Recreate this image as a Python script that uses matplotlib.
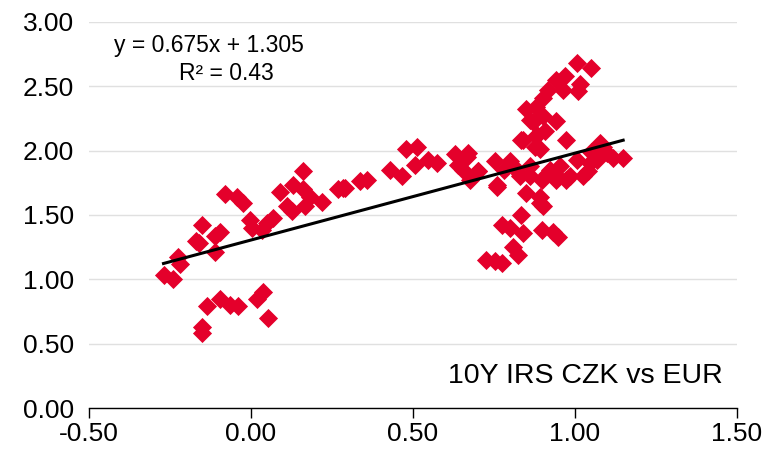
import numpy as np
import matplotlib
matplotlib.use('Agg')
import matplotlib.pyplot as plt

plt.rcParams['font.family'] = ['Liberation Sans', 'DejaVu Sans']

# EUR 10Y IRS (x) vs CZK 10Y IRS (y)
eur = [-0.27, -0.24, -0.225, -0.22, -0.17, -0.152, -0.16, -0.111, -0.096, -0.11,
       -0.08, -0.044, -0.025, -0.003, 0.002, 0.033, 0.048, 0.068, 0.09, 0.11,
       0.126, 0.13, 0.161, 0.161, 0.167, 0.182, 0.218, 0.269, 0.29, 0.336,
       -0.137, -0.096, -0.065, -0.039, 0.018, 0.038, 0.053, -0.152, -0.152,
       0.285, 0.357, 0.429, 0.465, 0.48, 0.511, 0.506, 0.547, 0.573, 0.63,
       0.671, 0.64, 0.655, 0.676, 0.702, 0.753, 0.758, 0.81, 0.84, 0.871, 0.883,
       1.005, 1.051, 0.943, 0.969, 1.015, 1.01, 0.964, 0.918, 0.90, 0.88,
       0.85, 0.861, 0.90, 0.943, 0.907, 0.835, 0.876, 0.974, 0.892, 1.077,
       1.051, 1.149, 1.118, 1.098, 0.70, 0.80, 0.83, 0.861, 0.85, 0.892,
       0.913, 0.954, 0.985, 1.025, 1.005, 0.943, 0.974,
       0.758, 0.892, 0.90, 0.835, 0.774, 0.80, 0.84, 0.897, 0.933, 0.949,
       0.81, 0.825, 0.727, 0.753, 0.774,
       0.666, 0.88, 0.897, 0.923, 0.861, 0.83, 1.046, 1.067, 1.087, 0.78,
       0.94, 1.04]
czk = [1.03, 1.00, 1.17, 1.12, 1.30, 1.42, 1.28, 1.215, 1.37, 1.34,
       1.66, 1.64, 1.59, 1.46, 1.40, 1.38, 1.44, 1.48, 1.68, 1.57,
       1.53, 1.73, 1.84, 1.70, 1.57, 1.64, 1.60, 1.70, 1.71, 1.76,
       0.79, 0.85, 0.80, 0.79, 0.85, 0.90, 0.70, 0.63, 0.58,
       1.71, 1.77, 1.85, 1.80, 2.01, 2.03, 1.89, 1.93, 1.90, 1.97,
       1.98, 1.89, 1.85, 1.77, 1.84, 1.92, 1.73, 1.88, 2.08, 2.22, 2.12,
       2.68, 2.64, 2.55, 2.58, 2.52, 2.46, 2.47, 2.47, 2.41, 2.34,
       2.32, 2.24, 2.27, 2.23, 2.15, 2.08, 2.03, 2.08, 2.01, 2.06,
       1.99, 1.94, 1.94, 1.98, 1.84, 1.92, 1.82, 1.80, 1.67, 1.64,
       1.82, 1.88, 1.80, 1.80, 1.93, 1.77, 1.77,
       1.72, 1.59, 1.57, 1.50, 1.42, 1.40, 1.36, 1.38, 1.37, 1.33,
       1.25, 1.19, 1.15, 1.14, 1.13,
       1.95, 2.11, 1.77, 1.85, 1.88, 1.80, 1.90, 1.93, 2.03, 1.85,
       1.82, 1.84]

slope, intercept = 0.675, 1.305
r2 = 0.43
title = '10Y IRS CZK vs EUR'
x_ticks = [-0.5, 0.0, 0.5, 1.0, 1.5]
y_ticks = [0.0, 0.5, 1.0, 1.5, 2.0, 2.5, 3.0]

fig = plt.figure(figsize=(7.64, 4.49), dpi=100)
ax = fig.add_axes([0.1165, 0.0913, 0.848, 0.86])

ax.scatter(eur, czk, marker='D', s=95, color='#E4002B', linewidths=0, zorder=3)

xl = np.array([min(eur), max(eur)])
ax.plot(xl, slope * xl + intercept, color='black', linewidth=2.2, zorder=4)

ax.set_xlim(-0.5, 1.5)
ax.set_ylim(0, 3.0)
ax.set_xticks(x_ticks)
ax.set_yticks(y_ticks)
ax.set_xticklabels(['{:.2f}'.format(v) for v in x_ticks], fontsize=19)
ax.set_yticklabels(['{:.2f}'.format(v) for v in y_ticks], fontsize=19)
ax.yaxis.grid(True, color='#e0e0e0', linewidth=1)
ax.set_axisbelow(True)
for s in ['top', 'right', 'left']:
    ax.spines[s].set_visible(False)
ax.spines['bottom'].set_linewidth(1)
ax.tick_params(axis='y', length=0, pad=11)
ax.tick_params(axis='x', direction='out', length=7, width=1, pad=3)

ax.text(-0.13, 2.82, 'y = {}x + {}'.format(slope, intercept), fontsize=16.5,
        ha='center', va='center')
ax.text(-0.077, 2.60, 'R² = {}'.format(r2), fontsize=16.5, ha='center', va='center')
ax.text(1.457, 0.25, title, fontsize=20.5, ha='right', va='center')

fig.savefig('out.png', dpi=100)
